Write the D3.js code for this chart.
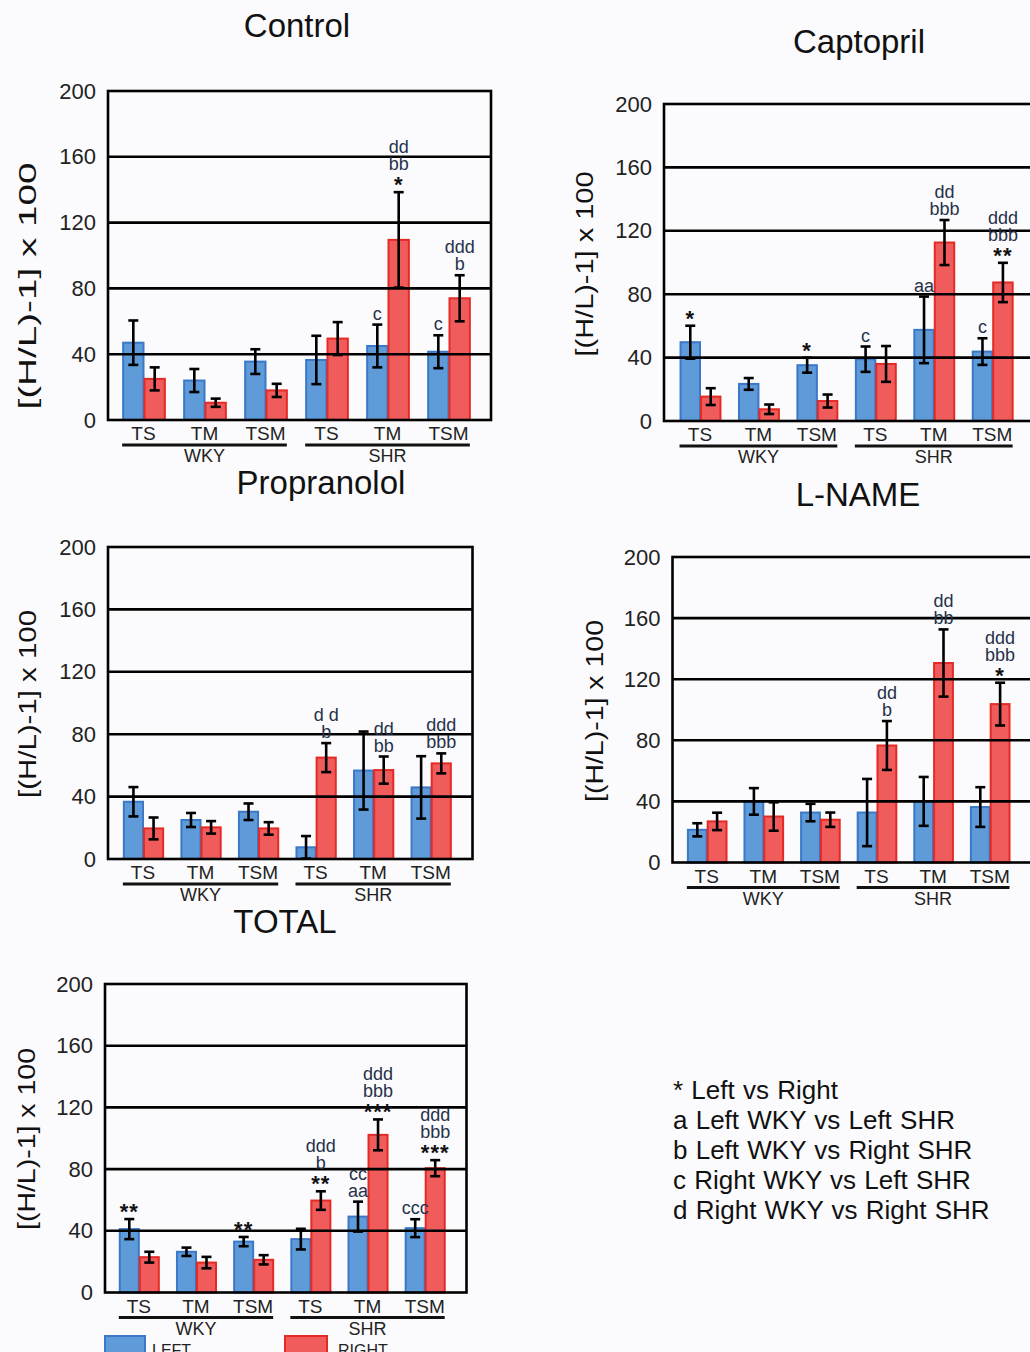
<!DOCTYPE html>
<html>
<head>
<meta charset="utf-8">
<script src="https://cdn.jsdelivr.net/npm/d3@7"></script>
<style>
  html, body { margin: 0; padding: 0; background: #fbfbfd; }
  svg { display: block; }
  text { font-family: "Liberation Sans", Arial, sans-serif; }
</style>
</head>
<body>
<svg id="chart" width="1030" height="1352"></svg>
<script>
// ---------------- DATA ----------------
const panelNames = ["Control", "Captopril", "Propranolol", "L-NAME", "TOTAL"];
const categories = ["TS", "TM", "TSM", "TS", "TM", "TSM"];
const strains = ["WKY", "SHR"];
const yTicks = [0, 40, 80, 120, 160, 200];
const yTitle = "[(H/L)-1] x 100";
const seriesNames = ["LEFT", "RIGHT"];
const keyLines = ["* Left vs Right", "a Left WKY vs Left SHR", "b Left WKY vs Right SHR",
                  "c Right WKY vs Left SHR", "d Right WKY vs Right SHR"];

// Control
const controlLeft    = [47, 24, 35.5, 36.5, 45, 41.5];
const controlLeftSE  = [13.5, 7, 7.5, 14.7, 13, 10];
const controlRight   = [25, 10.5, 18, 49.5, 109.5, 74];
const controlRightSE = [7, 2.5, 4, 10, 29, 14];
const controlLeftSig  = [[], [], [], [], ["c"], ["c"]];
const controlRightSig = [[], [], [], [], ["dd", "bb", "*"], ["ddd", "b"]];

// Captopril
const captoprilLeft    = [49.7, 23.4, 35.2, 39, 57.5, 43.8];
const captoprilLeftSE  = [10.4, 3.7, 4.7, 8, 21, 8.4];
const captoprilRight   = [15.4, 7.4, 12.6, 36, 112.6, 87.4];
const captoprilRightSE = [5.3, 3, 4.1, 11.3, 14.2, 12.4];
const captoprilLeftSig  = [["*"], [], ["*"], ["c"], ["aa"], ["c"]];
const captoprilRightSig = [[], [], [], [], ["dd", "bbb"], ["ddd", "bbb", "**"]];

// Propranolol
const propranololLeft    = [36.7, 25, 30.3, 7.5, 56.7, 45.9];
const propranololLeftSE  = [9.4, 4.5, 5.3, 7.2, 25, 20];
const propranololRight   = [19.6, 20.3, 19.6, 65, 57, 61.3];
const propranololRightSE = [7, 4, 4, 9.3, 8.7, 6.4];
const propranololLeftSig  = [[], [], [], [], [], []];
const propranololRightSig = [[], [], [], ["d d", "b"], ["dd", "bb"], ["ddd", "bbb"]];

// L-NAME
const lnameLeft    = [21.4, 40, 32.7, 32.7, 40, 36.3];
const lnameLeftSE  = [4.3, 8.7, 5.7, 22, 16, 13];
const lnameRight   = [26.9, 30.1, 28, 76.6, 130.6, 103.7];
const lnameRightSE = [5.7, 9.3, 4.7, 16, 22, 14];
const lnameLeftSig  = [[], [], [], [], [], []];
const lnameRightSig = [[], [], [], ["dd", "b"], ["dd", "bb"], ["ddd", "bbb", "*"]];

// TOTAL
const totalLeft    = [41.1, 26.4, 33, 34.6, 49.2, 41.7];
const totalLeftSE  = [6.5, 2.7, 3, 6.7, 9.7, 5.8];
const totalRight   = [22.9, 19.4, 21.2, 59.6, 102.2, 80.6];
const totalRightSE = [3.5, 3.7, 3, 6, 10, 5.2];
const totalLeftSig  = [["**"], [], ["**"], [], ["cc", "aa"], ["ccc"]];
const totalRightSig = [[], [], [], ["ddd", "b", "**"], ["ddd", "bbb", "***"], ["ddd", "bbb", "***"]];

const panelData = [
  [controlLeft, controlLeftSE, controlRight, controlRightSE, controlLeftSig, controlRightSig],
  [captoprilLeft, captoprilLeftSE, captoprilRight, captoprilRightSE, captoprilLeftSig, captoprilRightSig],
  [propranololLeft, propranololLeftSE, propranololRight, propranololRightSE, propranololLeftSig, propranololRightSig],
  [lnameLeft, lnameLeftSE, lnameRight, lnameRightSE, lnameLeftSig, lnameRightSig],
  [totalLeft, totalLeftSE, totalRight, totalRightSE, totalLeftSig, totalRightSig]
];

// ---------------- LAYOUT ----------------
const layout = [
  {left: 108, right: 491,  top: 91,  bottom: 420,   c1: 143.5, c6: 448.5, tx: 297, ty: 37,  yx: 28,  yy: 286,  yl: 247},
  {left: 664, right: 1042, top: 104, bottom: 421,   c1: 700,   c6: 992.2, tx: 859, ty: 53,  yx: 585, yy: 264,  yl: 185},
  {left: 108, right: 472.5,top: 547, bottom: 859,   c1: 143,   c6: 430.7, tx: 321, ty: 494, yx: 28,  yy: 704,  yl: 188},
  {left: 672.5,right: 1042,top: 557, bottom: 862.5, c1: 706.7, c6: 989.7, tx: 858, ty: 506, yx: 595, yy: 711,  yl: 182},
  {left: 105, right: 466.5,top: 984, bottom: 1292.5,c1: 138.8, c6: 424.7, tx: 285, ty: 933, yx: 27,  yy: 1139, yl: 182}
];

const BLUE = "#5f9bd8", BLUE_S = "#3a78c8";
const RED = "#f05c5c", RED_S = "#e42a24";
const SIG = "#26324a";

const svg = d3.select("#chart");
svg.append("rect").attr("width", 1030).attr("height", 1352).attr("fill", "#fbfbfd");

panelNames.forEach((name, pi) => {
  const L = layout[pi];
  const [lv, lse, rv, rse, lsig, rsig] = panelData[pi];
  const g = svg.append("g");
  const y = d3.scaleLinear().domain([0, 200]).range([L.bottom, L.top]);
  const step = (L.c6 - L.c1) / 5;
  const x = d3.scaleBand().domain(d3.range(categories.length))
    .range([L.c1 - step / 2, L.c6 + step / 2]).paddingInner(0.3).paddingOuter(0.15);
  const xs = d3.scaleBand().domain(seriesNames).range([0, x.bandwidth()]);

  // title
  g.append("text").attr("x", L.tx).attr("y", L.ty).attr("text-anchor", "middle")
    .attr("font-size", 33).attr("fill", "#111").text(name);

  // y-axis title
  g.append("text")
    .attr("transform", `translate(${L.yx},${L.yy}) rotate(-90)`)
    .attr("text-anchor", "middle").attr("dy", "0.35em")
    .attr("font-size", 23).attr("fill", "#111")
    .attr("textLength", L.yl).attr("lengthAdjust", "spacingAndGlyphs")
    .text(yTitle);

  // y-axis labels
  const ax = g.append("g").attr("transform", `translate(${L.left},0)`)
    .call(d3.axisLeft(y).tickValues(yTicks).tickSize(0).tickPadding(12).tickFormat(d3.format("d")));
  ax.select(".domain").remove();
  ax.selectAll("text").attr("font-size", 22).attr("fill", "#222")
    .attr("font-family", "'Liberation Sans', Arial, sans-serif");

  // bars
  const rows = categories.map((c, i) => ({i, c,
    bars: [{s: "LEFT", v: lv[i], e: lse[i], sig: lsig[i]}, {s: "RIGHT", v: rv[i], e: rse[i], sig: rsig[i]}]}));

  rows.forEach(r => {
    r.bars.forEach(b => {
      const bx = x(r.i) + xs(b.s);
      const bw = xs.bandwidth();
      g.append("rect")
        .attr("x", bx + 1).attr("y", y(b.v))
        .attr("width", bw - 1).attr("height", y(0) - y(b.v))
        .attr("fill", b.s === "LEFT" ? BLUE : RED)
        .attr("stroke", b.s === "LEFT" ? BLUE_S : RED_S).attr("stroke-width", 2);
    });
  });

  // gridlines
  yTicks.filter(t => t > 0 && t < 200).forEach(t => {
    g.append("line").attr("x1", L.left).attr("x2", L.right)
      .attr("y1", y(t)).attr("y2", y(t)).attr("stroke", "#000").attr("stroke-width", 2.6);
  });
  // frame
  g.append("rect").attr("x", L.left).attr("y", y(200))
    .attr("width", L.right - L.left).attr("height", y(0) - y(200))
    .attr("fill", "none").attr("stroke", "#000").attr("stroke-width", 2.6);

  // error bars and significance marks
  rows.forEach(r => {
    r.bars.forEach(b => {
      const cx = x(r.i) + xs(b.s) + xs.bandwidth() / 2 + 0.5;
      const yt = y(b.v + b.e), yb = y(Math.max(0, b.v - b.e));
      const eg = g.append("g").attr("stroke", "#000").attr("stroke-width", 2.6);
      eg.append("line").attr("x1", cx).attr("x2", cx).attr("y1", yt).attr("y2", yb);
      eg.append("line").attr("x1", cx - 5).attr("x2", cx + 5).attr("y1", yt).attr("y2", yt);
      eg.append("line").attr("x1", cx - 5).attr("x2", cx + 5).attr("y1", yb).attr("y2", yb);

      const n = b.sig.length;
      b.sig.forEach((s, k) => {
        const fromBottom = n - 1 - k;
        const isStar = /^\*+$/.test(s);
        g.append("text")
          .attr("x", cx).attr("y", yt - (isStar ? 0 : 5) - fromBottom * 17)
          .attr("text-anchor", "middle")
          .attr("font-size", isStar ? 22 : 18)
          .attr("font-weight", isStar ? "bold" : "normal")
          .attr("letter-spacing", isStar ? 1 : 0)
          .attr("fill", isStar ? "#111" : SIG)
          .text(s);
      });
    });
  });

  // category labels
  categories.forEach((c, i) => {
    g.append("text").attr("x", x(i) + x.bandwidth() / 2).attr("y", L.bottom + 20)
      .attr("text-anchor", "middle").attr("font-size", 19).attr("fill", "#222").text(c);
  });
  // strain underline and label
  strains.forEach((s, si) => {
    const x1 = x(si * 3), x2 = x(si * 3 + 2) + x.bandwidth();
    g.append("line").attr("x1", x1).attr("x2", x2)
      .attr("y1", L.bottom + 25).attr("y2", L.bottom + 25)
      .attr("stroke", "#111").attr("stroke-width", 3);
    g.append("text").attr("x", (x1 + x2) / 2).attr("y", L.bottom + 42)
      .attr("text-anchor", "middle").attr("font-size", 18).attr("fill", "#222").text(s);
  });
});

// series legend (bottom, partly cut off as in the reference)
const sw = [{s: seriesNames[0], x: 105, w: 40, f: BLUE, st: BLUE_S, tx: 152},
            {s: seriesNames[1], x: 285, w: 42, f: RED, st: RED_S, tx: 338}];
sw.forEach(d => {
  svg.append("rect").attr("x", d.x).attr("y", 1336).attr("width", d.w).attr("height", 24)
    .attr("fill", d.f).attr("stroke", d.st).attr("stroke-width", 2);
  svg.append("text").attr("x", d.tx).attr("y", 1356).attr("font-size", 16).attr("fill", "#222").text(d.s);
});

// significance key
keyLines.forEach((t, i) => {
  svg.append("text").attr("x", 673).attr("y", 1099 + i * 30)
    .attr("font-size", 26).attr("word-spacing", 1).attr("fill", "#111").text(t);
});
</script>
</body>
</html>
